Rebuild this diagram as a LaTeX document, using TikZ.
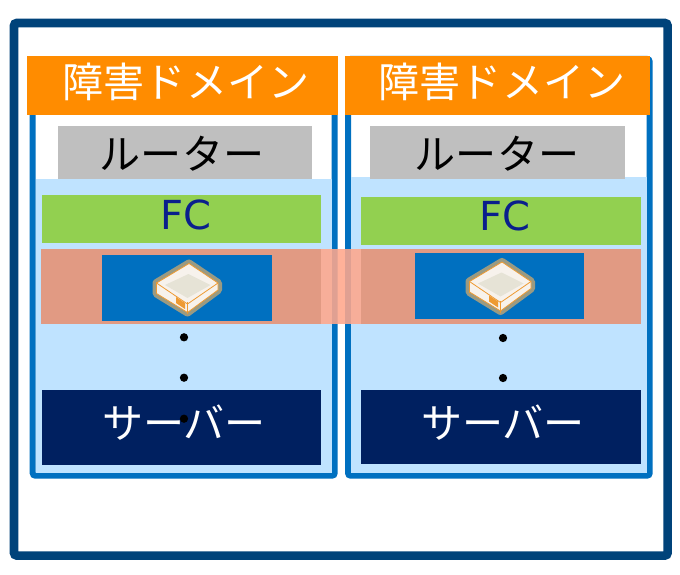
\documentclass[tikz,border=0pt]{standalone}
\usepackage{fontspec}
\newfontfamily\jpfont{Noto Sans CJK JP}
\newfontfamily\lat{DejaVu Sans}
\definecolor{framec}{HTML}{00437A}
\definecolor{domc}{HTML}{0070C0}
\definecolor{orangec}{HTML}{FF8C00}
\definecolor{greyc}{HTML}{BFBFBF}
\definecolor{lightc}{HTML}{BFE3FF}
\definecolor{greenc}{HTML}{92D050}
\definecolor{salmonc}{HTML}{E19A83}
\definecolor{bandc}{HTML}{FFA78C}
\definecolor{navyc}{HTML}{002060}
\definecolor{fctext}{HTML}{0A1F8C}
\definecolor{iconhalo}{HTML}{9A9A82}
\definecolor{iconedge}{HTML}{EE9A32}
\definecolor{iconwall}{HTML}{F7F2EC}
\definecolor{iconfloor}{HTML}{E6E3D6}
\newcommand{\bx}[6]{%
  \pgfmathsetmacro{\bw}{(#4-#2)*0.75}\pgfmathsetmacro{\bh}{(#5-#3)*0.75}%
  \node[plainbox,#6,minimum width=\bw pt,minimum height=\bh pt,anchor=north west] (#1) at (#2,#3) {};}
\tikzset{
  plainbox/.style={inner sep=0pt,outer sep=0pt,draw=none},
  jplabel/.style={inner sep=0pt,font=\jpfont\fontsize{30.8}{34}\selectfont},
  fclabel/.style={inner sep=0pt,text=fctext,font=\lat\fontsize{30}{34}\selectfont},
  vdot/.style={circle,fill=black,inner sep=0pt,minimum size=6.2pt},
  domframe/.style={draw=domc,line width=4.5pt,fill=white,rounded corners=2pt},
  serverlook/.pic={
    \draw[iconhalo,fill=iconhalo,line width=6pt,line join=round]
      (189,263.5)--(218,283)--(218,290)--(187.5,312.5)--(156.5,293.5)--(156.5,283)--cycle;
    \draw[iconedge,fill=iconwall,line width=.6pt,line join=round]
      (189,263.5)--(218,283)--(218,290)--(187.5,312.5)--(156.5,293.5)--(156.5,283)--cycle;
    \fill[iconfloor] (188.5,274)--(210.5,285)--(187.5,298)--(165,285)--cycle;
    \draw[iconedge,line width=.6pt] (156.5,283)--(187.5,304)--(218,283);
    \draw[iconedge,line width=1.4pt] (156.5,282)--(156.5,294);
    \draw[iconedge,line width=1.4pt] (187.5,302)--(187.5,314);
    \fill[iconedge] (176,297)--(185,303)--(185,309)--(176,303)--cycle;
  }
}
\begin{document}
\begin{tikzpicture}[x=0.75pt,y=-0.75pt]
\useasboundingbox (0,0) rectangle (680,574);
\fill[white] (0,0) rectangle (680,574);
\node[plainbox,minimum width=490.2pt,minimum height=399.4pt,anchor=north west,draw=framec,line width=6.4pt,fill=white,rounded corners=2pt] (outer) at (14,23) {};
% left domain
\bx{domL}{32.7}{60}{334.7}{475.7}{domframe}
\bx{paleL}{35.7}{179}{331.7}{472.7}{fill=lightc}
\bx{hdrL}{27}{56}{338}{115}{fill=orangec}
\bx{rtrL}{57.7}{125.7}{311.7}{179}{fill=greyc}
\bx{fcL}{41.7}{195}{321}{242.7}{fill=greenc}
\bx{salL}{41}{249}{321}{323.5}{fill=salmonc}
\bx{srvL}{102}{255}{271.7}{320.7}{fill=domc}
\bx{navL}{41.7}{390.3}{321}{464.7}{fill=navyc}
% right domain
\bx{domR}{348}{59}{649.7}{475.7}{domframe}
\bx{paleR}{351}{177.3}{646.7}{472.7}{fill=lightc}
\bx{hdrR}{345}{56}{650}{115}{fill=orangec}
\bx{rtrR}{370}{125.7}{625}{179}{fill=greyc}
\bx{fcR}{361.3}{196.7}{640.7}{245.3}{fill=greenc}
\bx{salR}{361}{249}{641}{323.5}{fill=salmonc}
\bx{srvR}{414.7}{253.3}{584}{319}{fill=domc}
\bx{navR}{361.3}{389.5}{640.7}{464}{fill=navyc}
% connecting band
\bx{band}{321}{249}{361}{324}{fill=bandc,opacity=.88}
% icons
\pic at (0,0) {serverlook};
\pic at (313,-1.5) {serverlook};
% labels
\node[jplabel,text=white] (tL1) at (186,82) {障害ドメイン};
\node[jplabel,text=white] (tR1) at (502,82) {障害ドメイン};
\node[jplabel,text=black] (tL2) at (182,153.5) {ルーター};
\node[jplabel,text=black] (tR2) at (497,153.5) {ルーター};
\node[fclabel] (tL3) at (186,215) {FC};
\node[fclabel] (tR3) at (505,216) {FC};
\node[jplabel,text=white] (tL4) at (184,423) {サーバー};
\node[jplabel,text=white] (tR4) at (503,423) {サーバー};
% dots
\node[vdot] (d1) at (184,337.3) {};
\node[vdot] (d2) at (184,377.7) {};
\node[vdot] (d3) at (184,418.7) {};
\node[vdot] (d4) at (503,338) {};
\node[vdot] (d5) at (503,378) {};
\end{tikzpicture}
\end{document}
